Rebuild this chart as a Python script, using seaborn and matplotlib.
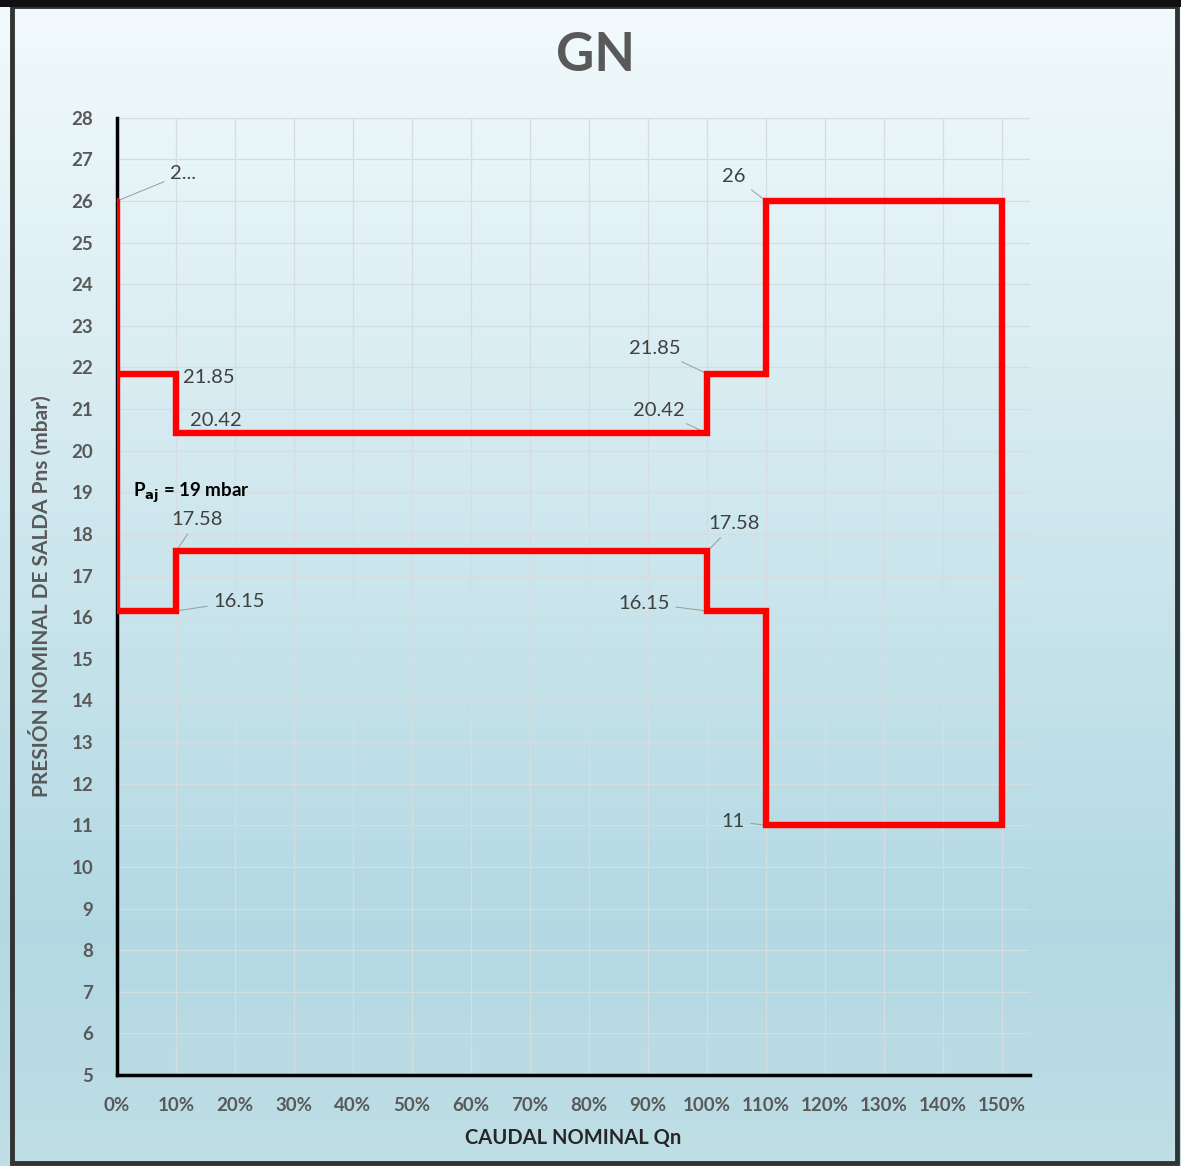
import numpy as np
import pandas as pd
import matplotlib.pyplot as plt
import matplotlib.patches as patches
import seaborn as sns

# datos de la curva (caudal en fracción de Qn, presión en mbar)
caudal = [0, 0, 0.1, 0.1, 1.0, 1.0, 1.1, 1.1, 1.5, 1.5, 1.1, 1.1, 1.0, 1.0, 0.1, 0.1, 0, 0]
presion = [26, 21.85, 21.85, 20.42, 20.42, 21.85, 21.85, 26, 26, 11, 11, 16.15, 16.15, 17.58, 17.58, 16.15, 16.15, 21.85]

# etiquetas de datos: (x, y, texto, x_texto, y_texto, alineación)
etiquetas = [
    (0.0, 26, "2...", 0.09, 26.65, "left"),
    (0.1, 21.85, "21.85", 0.112, 21.75, "left"),
    (0.1, 20.42, "20.42", 0.124, 20.72, "left"),
    (0.1, 17.58, "17.58", 0.136, 18.34, "center"),
    (0.1, 16.15, "16.15", 0.163, 16.38, "left"),
    (1.0, 21.85, "21.85", 0.955, 22.45, "right"),
    (1.0, 20.42, "20.42", 0.962, 20.96, "right"),
    (1.0, 17.58, "17.58", 1.046, 18.24, "center"),
    (1.0, 16.15, "16.15", 0.937, 16.34, "right"),
    (1.1, 26, "26", 1.066, 26.58, "right"),
    (1.1, 11, "11", 1.064, 11.1, "right"),
]

x_ticks = np.arange(0, 1.51, 0.1)
y_ticks = np.arange(5, 29, 1)

df = pd.DataFrame({"caudal": caudal, "presion": presion})

sns.set_theme(style="whitegrid")
plt.rcParams['font.family'] = ['Lato', 'DejaVu Sans']

fig = plt.figure(figsize=(11.81, 11.66), dpi=100)

# fondo degradado
bg = fig.add_axes([0, 0, 1, 1], zorder=-10)
grad = np.linspace(0, 1, 256).reshape(-1, 1)
top = np.array([0.95, 0.98, 0.99])
mid = np.array([0.70, 0.85, 0.89])
bot = np.array([0.75, 0.87, 0.90])
colors = np.where(grad[..., None] < 0.8,
                  top + (mid - top) * (grad[..., None] / 0.8),
                  mid + (bot - mid) * ((grad[..., None] - 0.8) / 0.2))
bg.imshow(colors, aspect='auto', extent=[0, 1, 0, 1], origin='upper')
bg.axis('off')

# marco
fig.patches.append(patches.Rectangle((0.010, 0.003), 0.987, 0.992, transform=fig.transFigure,
                                     fill=False, edgecolor='#333333', linewidth=3.5))
fig.patches.append(patches.Rectangle((0.0, 0.994), 1.0, 0.006, transform=fig.transFigure,
                                     facecolor='#111111', edgecolor='none'))

ax = fig.add_axes([0.099, 0.078, 0.773, 0.821])
ax.set_facecolor('none')

sns.lineplot(data=df, x="caudal", y="presion", sort=False, estimator=None,
             color='#ff0000', linewidth=4.6, ax=ax, zorder=5)
for line in ax.lines:
    line.set_solid_joinstyle('miter')

for x0, y0, txt, xt, yt, ha in etiquetas:
    ax.annotate(txt, xy=(x0, y0), xytext=(xt, yt), ha=ha, va='center',
                fontsize=14.5, color='#404040',
                arrowprops=dict(arrowstyle='-', color='#9a9a9a', lw=0.7,
                                shrinkA=2, shrinkB=0))

ax.text(0.028, 19.0, r"P$_{\mathbf{aj}}$ = 19 mbar", fontsize=13.5, fontweight='bold',
        color='black', va='center', ha='left')

ax.set_xlim(0, 1.547)
ax.set_ylim(5, 28)
ax.set_xticks(x_ticks)
ax.set_xticklabels([f"{int(round(v * 100))}%" for v in x_ticks])
ax.set_yticks(y_ticks)
ax.tick_params(axis='both', length=0, labelsize=13.5, labelcolor='#595959')
ax.tick_params(axis='x', pad=16)
ax.tick_params(axis='y', pad=17)
for lbl in ax.get_xticklabels() + ax.get_yticklabels():
    lbl.set_fontweight('bold')

ax.grid(True, color='#d5dde0', linewidth=0.9)
for s in ['top', 'right']:
    ax.spines[s].set_visible(False)
for s in ['left', 'bottom']:
    ax.spines[s].set_color('black')
    ax.spines[s].set_linewidth(2.5)

ax.set_xlabel("CAUDAL NOMINAL Qn", fontsize=14.5, fontweight='bold', color='#262626', labelpad=10)
ax.set_ylabel("PRESIÓN NOMINAL DE SALDA Pns (mbar)", fontsize=15, fontweight='bold',
              color='#595959', labelpad=14)

fig.text(0.504, 0.952, "GN", ha='center', va='center', fontsize=38, fontweight='bold', color='#595959')

plt.savefig('out.png', dpi=100)
